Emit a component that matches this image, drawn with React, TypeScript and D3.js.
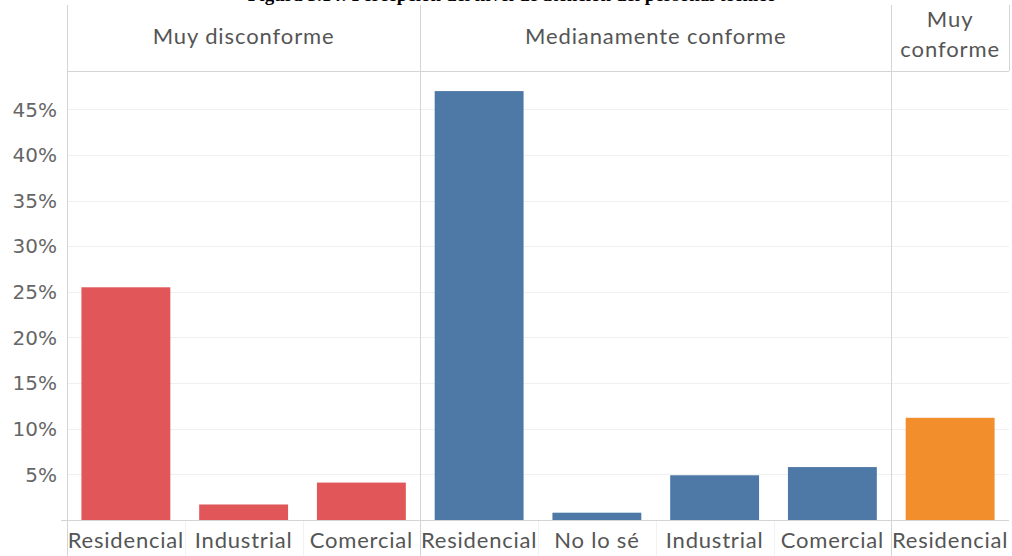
import * as d3 from 'd3';
import React, { useEffect, useRef } from 'react';

// paneles (nivel de conformidad)
const panelNames = ['Muy disconforme', 'Medianamente conforme', 'Muy conforme'];
const panelColors = ['#e15759', '#4e79a7', '#f28e2b'];

// categorías y valores (%) por panel
const disconformeCats = ['Residencial', 'Industrial', 'Comercial'];
const disconformeVals = [25.5, 1.7, 4.1];
const medianoCats = ['Residencial', 'No lo sé', 'Industrial', 'Comercial'];
const medianoVals = [47.0, 0.8, 4.9, 5.8];
const conformeCats = ['Residencial'];
const conformeVals = [11.2];

const yTicks = [5, 10, 15, 20, 25, 30, 35, 40, 45];

const titleText = 'Figura 3.14: Percepción del nivel de atención del personal técnico';

const W = 1012;
const H = 556;
const left = 67;
const right = 1009;
const headerTop = 5;
const headerBottom = 71;
const baseY = 520;

const FONT = 'Lato, "Open Sans", sans-serif';

export default function App() {
  const ref = useRef<SVGSVGElement | null>(null);

  useEffect(() => {
    const svg = d3.select(ref.current);
    svg.selectAll('*').remove();

    const groups = [
      { name: panelNames[0], cats: disconformeCats, vals: disconformeVals, color: panelColors[0] },
      { name: panelNames[1], cats: medianoCats, vals: medianoVals, color: panelColors[1] },
      { name: panelNames[2], cats: conformeCats, vals: conformeVals, color: panelColors[2] },
    ];

    const rows: any[] = [];
    groups.forEach((g, gi) => {
      g.cats.forEach((c, i) => {
        rows.push({ key: gi + '-' + i, panel: gi, cat: c, value: g.vals[i], color: g.color });
      });
    });

    const x = d3
      .scaleBand()
      .domain(rows.map((r) => r.key))
      .range([left, right])
      .paddingInner(0.245)
      .paddingOuter(0.1225);

    const y = d3.scaleLinear().domain([0, 49.2]).range([baseY, headerBottom]);

    // title (cut off at the top, as in the source page)
    svg
      .append('text')
      .attr('x', 512)
      .attr('y', 1)
      .attr('text-anchor', 'middle')
      .attr('font-family', '"Liberation Serif", "Times New Roman", serif')
      .attr('font-weight', 'bold')
      .attr('font-size', 19)
      .attr('fill', '#000')
      .text(titleText);

    // gridlines
    svg
      .append('g')
      .selectAll('line')
      .data(yTicks)
      .enter()
      .append('line')
      .attr('x1', left)
      .attr('x2', right)
      .attr('y1', (d) => Math.round(y(d)) + 0.5)
      .attr('y2', (d) => Math.round(y(d)) + 0.5)
      .attr('stroke', '#f0f0f0')
      .attr('stroke-width', 1);

    // y tick labels
    svg
      .append('g')
      .selectAll('text')
      .data(yTicks)
      .enter()
      .append('text')
      .attr('x', 57)
      .attr('y', (d) => y(d))
      .attr('dy', '0.36em')
      .attr('text-anchor', 'end')
      .attr('font-family', '"DejaVu Sans", Verdana, sans-serif')
      .attr('font-size', 20)
      .attr('fill', '#666')
      .text((d) => d + '%');

    // bars
    svg
      .append('g')
      .selectAll('rect')
      .data(rows)
      .enter()
      .append('rect')
      .attr('x', (d) => x(d.key) as number)
      .attr('width', x.bandwidth())
      .attr('y', (d) => y(d.value))
      .attr('height', (d) => baseY - y(d.value))
      .attr('fill', (d) => d.color);

    // faint separators between category labels
    const step = x.step();
    svg
      .append('g')
      .selectAll('line')
      .data(rows.slice(1))
      .enter()
      .append('line')
      .attr('x1', (d) => Math.round((x(d.key) as number) - step * 0.1225) + 0.5)
      .attr('x2', (d) => Math.round((x(d.key) as number) - step * 0.1225) + 0.5)
      .attr('y1', baseY)
      .attr('y2', H)
      .attr('stroke', '#f2f2f2');

    // category labels
    svg
      .append('g')
      .selectAll('text')
      .data(rows)
      .enter()
      .append('text')
      .attr('x', (d) => (x(d.key) as number) + x.bandwidth() / 2)
      .attr('y', 548)
      .attr('text-anchor', 'middle')
      .attr('font-family', FONT)
      .attr('font-size', 22)
      .attr('letter-spacing', 0.8)
      .attr('fill', '#555')
      .text((d) => d.cat);

    // panel borders
    const panelEdges: number[] = [];
    let count = 0;
    groups.forEach((g) => {
      panelEdges.push(left + count * step);
      count += g.cats.length;
    });
    panelEdges.push(right);

    const border = svg.append('g').attr('stroke', '#d4d4d4').attr('stroke-width', 1);
    border
      .append('line')
      .attr('x1', left)
      .attr('x2', right)
      .attr('y1', headerBottom + 0.5)
      .attr('y2', headerBottom + 0.5);
    border
      .append('line')
      .attr('x1', 61)
      .attr('x2', right)
      .attr('y1', baseY + 0.5)
      .attr('y2', baseY + 0.5);
    panelEdges.forEach((px, i) => {
      border
        .append('line')
        .attr('x1', Math.round(px) + 0.5)
        .attr('x2', Math.round(px) + 0.5)
        .attr('y1', headerTop)
        .attr('y2', i === panelEdges.length - 1 ? headerBottom : H);
    });

    // panel headers
    groups.forEach((g, gi) => {
      const cx = (panelEdges[gi] + panelEdges[gi + 1]) / 2;
      const t = svg
        .append('text')
        .attr('text-anchor', 'middle')
        .attr('font-family', FONT)
        .attr('font-size', 22)
        .attr('letter-spacing', 0.9)
        .attr('fill', '#555');
      const w = panelEdges[gi + 1] - panelEdges[gi];
      if (w < 150) {
        const parts = g.name.split(' ');
        t.append('tspan').attr('x', cx).attr('y', 27).text(parts[0]);
        t.append('tspan').attr('x', cx).attr('y', 57).text(parts.slice(1).join(' '));
      } else {
        t.attr('x', cx).attr('y', 44).text(g.name);
      }
    });
  }, []);

  return (
    <svg
      ref={ref}
      width={W}
      height={H}
      style={{ position: 'absolute', left: 0, top: 0, background: '#fff' }}
    />
  );
}
